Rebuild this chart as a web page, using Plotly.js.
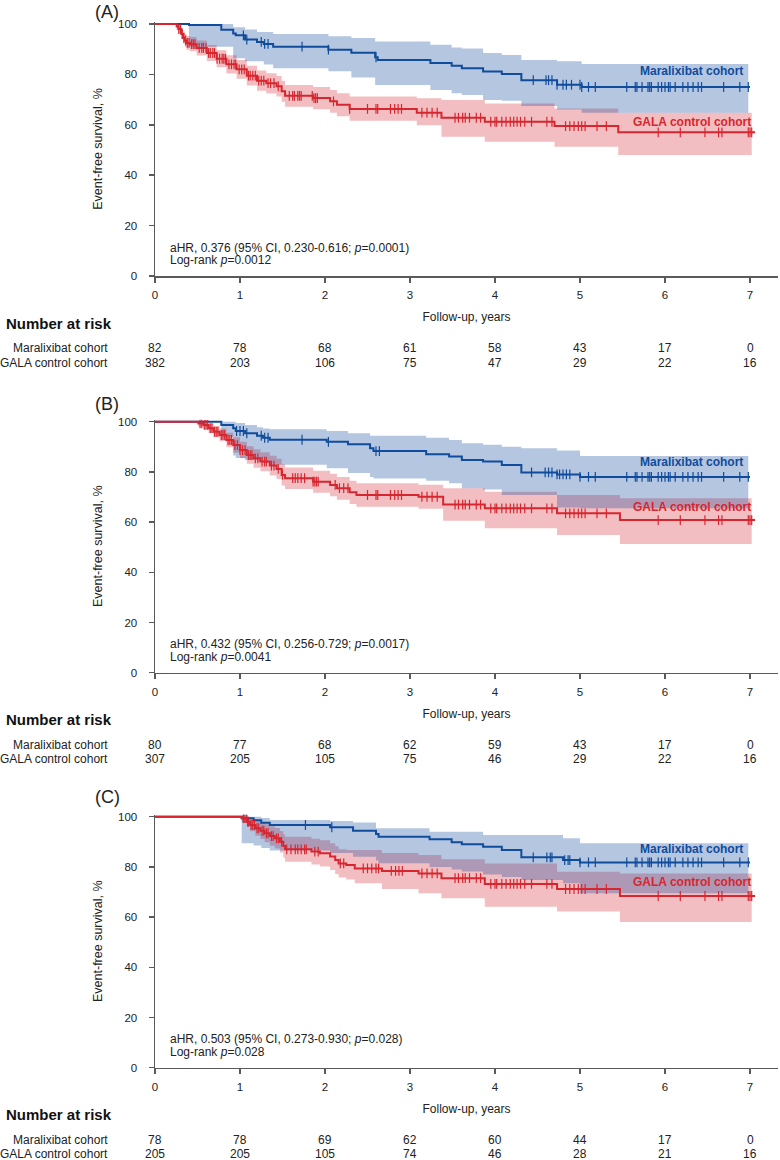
<!DOCTYPE html>
<html>
<head>
<meta charset="utf-8">
<script src="https://cdn.plot.ly/plotly-3.0.1.min.js"></script>
<style>
  body { margin: 0; background: #fff; }
  #km { width: 780px; height: 1160px; }
</style>
</head>
<body>
<div id="km"></div>
<script>
// ---- data (years, % event-free) ----

// Panel A
const aBlueT  = [0, 0.4, 0.78, 0.92, 0.95, 1.06, 1.2, 1.28, 1.39, 2.04, 2.31, 2.59, 2.62, 3.24, 3.49, 3.61, 3.86, 4.08, 4.31, 4.73, 5.02];
const aBlueS  = [100, 99.6, 97.7, 96.2, 95.5, 93.8, 92.9, 92.1, 91.0, 89.8, 88.6, 86.8, 85.7, 84.5, 83.4, 82.4, 81.1, 80.2, 77.7, 75.9, 75.0];
const aBlueUp = [100, 100, 100, 98.7, 98.7, 97.8, 96.8, 96.8, 96.0, 95.1, 94.4, 93.1, 93.1, 91.8, 90.7, 90.3, 88.5, 87.7, 85.7, 85.2, 84.1];
const aBlueLo = [100, 91, 91, 86.4, 86.4, 85.2, 85.2, 83.9, 82.4, 81.2, 78.8, 75.8, 75.8, 73.8, 72.5, 71.8, 69.8, 69.5, 67.5, 66.1, 64.8];
const aBlueCens = [1.04, 1.08, 1.25, 1.29, 1.33, 1.73, 2.04, 2.6, 4.45, 4.6, 4.63, 4.67, 4.73, 4.8, 4.84, 4.9, 5.0, 5.02, 5.1, 5.18,
  5.55, 5.65, 5.67, 5.73, 5.8, 5.82, 5.84, 5.92, 5.96, 6.0, 6.04, 6.06, 6.12, 6.21, 6.27, 6.33, 6.39, 6.43, 6.69, 6.88, 6.98];

const aRedT  = [0, 0.255, 0.275, 0.31, 0.33, 0.35, 0.37, 0.41, 0.49, 0.61, 0.725, 0.84, 0.96, 1.08, 1.2, 1.31, 1.43, 1.49, 1.53, 1.86, 2.06, 2.14, 2.29, 3.08, 3.37, 3.88, 4.7, 5.45];
const aRedS  = [100, 99, 98, 96, 94.5, 93.5, 92.5, 92, 90.5, 88.5, 86.2, 84, 82, 79.5, 77.5, 76.5, 75.3, 73.3, 71.5, 70.6, 69.3, 68, 66.3, 64.8, 62.8, 61.2, 59.5, 57];
const aRedUp = [100, 100, 99.5, 98, 97, 96, 95.2, 94.8, 93.5, 91.7, 89.6, 87.6, 85.7, 83.4, 81.5, 80.5, 79.4, 77.5, 75.8, 75, 73.8, 72.5, 71.2, 70.5, 69.8, 68.5, 66.5, 64.8];
const aRedLo = [100, 97.5, 96.3, 94, 92.3, 91, 89.8, 89.2, 87.5, 85.3, 82.8, 80.4, 78.3, 75.6, 73.5, 72.4, 71.2, 69.1, 67.2, 66.2, 64.8, 63.4, 61.6, 59.8, 55.3, 53.3, 51.3, 48];
const aRedCens = [0.28, 0.3, 0.32, 0.34, 0.36, 0.38, 0.4, 0.43, 0.45, 0.47, 0.52, 0.55, 0.57, 0.6, 0.63, 0.65, 0.68, 0.7, 0.73, 0.76,
  0.79, 0.81, 0.83, 0.87, 0.9, 0.93, 0.95, 0.99, 1.02, 1.05, 1.1, 1.12, 1.15, 1.18, 1.22, 1.25, 1.28, 1.33, 1.36, 1.4, 1.45,
  1.58, 1.62, 1.64, 1.68, 1.7, 1.72, 1.85, 1.87, 1.89, 1.91, 2.1, 2.29, 2.5, 2.6, 2.62, 2.77, 2.82, 2.86, 2.9, 3.14, 3.2, 3.26, 3.32,
  3.53, 3.57, 3.62, 3.65, 3.7, 3.78, 3.83, 3.95, 4.0, 4.02, 4.08, 4.13, 4.18, 4.22, 4.26, 4.3, 4.35, 4.43, 4.61, 4.67,
  4.83, 4.88, 4.93, 4.98, 5.02, 5.06, 5.2, 5.31, 5.92, 6.18, 6.47, 6.63, 6.67, 6.98, 7.0, 7.02];

// Panel B
const bBlueT  = [0, 0.78, 0.92, 0.95, 1.06, 1.2, 1.27, 1.35, 2.02, 2.27, 2.53, 2.57, 3.19, 3.46, 3.61, 3.86, 4.08, 4.31, 4.73, 5.0];
const bBlueS  = [100, 98.7, 97.4, 96.3, 95.4, 94.4, 93.6, 92.8, 92.0, 91.0, 89.4, 88.3, 87.0, 86.1, 84.7, 84.1, 82.7, 79.8, 79.0, 78.0];
const bBlueUp = [100, 100, 100, 99.5, 98.7, 97.8, 97.3, 97.0, 96.3, 95.4, 94.4, 94.4, 93.6, 92.7, 91.4, 90.8, 90.0, 89.4, 88.5, 86.3];
const bBlueLo = [100, 94, 86.5, 85.5, 84.7, 84.2, 83.5, 82.8, 81.5, 79.6, 78, 77.4, 76.5, 75.5, 73.5, 73.0, 70.8, 70.8, 65.8, 65.5];
const bBlueCens = [0.96, 1.0, 1.04, 1.08, 1.25, 1.29, 1.33, 1.73, 2.04, 2.6, 2.64, 4.43, 4.59, 4.63, 4.67, 4.73, 4.76, 4.8, 4.84, 4.88,
  5.0, 5.1, 5.18, 5.55, 5.65, 5.67, 5.73, 5.8, 5.82, 5.84, 5.92, 5.96, 6.0, 6.04, 6.06, 6.12, 6.21, 6.27, 6.33, 6.39, 6.43, 6.69, 6.88, 6.98];

const bRedT  = [0, 0.51, 0.57, 0.63, 0.69, 0.76, 0.84, 0.92, 1.0, 1.08, 1.16, 1.24, 1.35, 1.43, 1.49, 1.53, 1.86, 2.06, 2.14, 2.29, 2.37, 3.1, 3.39, 3.88, 4.73, 5.47];
const bRedS  = [100, 99.3, 98.7, 97.4, 96.0, 94.7, 92.7, 90.7, 88.7, 86.7, 85.4, 84.1, 82.5, 81.2, 78.8, 77.5, 76.1, 74.8, 73.5, 71.9, 70.8, 70.1, 67.0, 65.5, 63.5, 60.8];
const bRedUp = [100, 100, 100, 99.3, 98.3, 97.3, 95.6, 93.8, 92.0, 90.2, 89.0, 87.8, 86.4, 85.2, 83, 81.8, 80.5, 79.3, 78, 76.5, 75.5, 74.9, 73.5, 72.1, 70.8, 69.5];
const bRedLo = [100, 98, 97, 95.5, 93.8, 92.2, 89.8, 87.6, 85.4, 83.2, 81.7, 80.3, 78.6, 77.2, 74.6, 73.2, 71.7, 70.3, 68.9, 67.2, 66.1, 65.3, 60.5, 57.5, 54.9, 51.3];
const bRedCens = [0.53, 0.55, 0.58, 0.6, 0.62, 0.65, 0.67, 0.7, 0.72, 0.74, 0.78, 0.8, 0.82, 0.86, 0.88, 0.9, 0.94, 0.97, 1.0, 1.03,
  1.06, 1.1, 1.12, 1.14, 1.18, 1.21, 1.26, 1.29, 1.31, 1.37, 1.4, 1.45, 1.5, 1.62, 1.65, 1.68, 1.72, 1.76, 1.86, 1.88, 1.9, 1.92,
  2.12, 2.17, 2.22, 2.27, 2.5, 2.6, 2.62, 2.77, 2.82, 2.86, 2.9, 3.14, 3.2, 3.26, 3.32, 3.53, 3.57, 3.62, 3.65, 3.7, 3.78, 3.83,
  3.95, 4.0, 4.02, 4.08, 4.13, 4.18, 4.22, 4.26, 4.3, 4.35, 4.43, 4.61, 4.67, 4.83, 4.88, 4.93, 4.98, 5.02, 5.06, 5.2, 5.31,
  5.92, 6.18, 6.47, 6.63, 6.67, 6.98, 7.0, 7.02];

// Panel C
const cBlueT  = [0, 1.02, 1.16, 1.25, 1.35, 2.06, 2.33, 2.6, 2.63, 3.23, 3.49, 3.61, 3.86, 4.08, 4.31, 4.8, 5.0];
const cBlueS  = [100, 99.4, 98.6, 97.6, 96.7, 95.8, 94.4, 93.1, 92.0, 91.0, 89.8, 89.0, 88.0, 86.7, 83.8, 82.7, 81.8];
const cBlueUp = [100, 100, 100, 99.5, 98.7, 98.3, 97.7, 95.4, 95.4, 94.0, 94.0, 94.0, 92.7, 92.7, 92.7, 91.4, 89.4];
const cBlueLo = [100, 89.4, 88.5, 87.5, 86.5, 85.5, 84.0, 82.5, 81.5, 80.0, 79.0, 78.2, 77.0, 76.0, 74.8, 73.5, 69.5];
const cBlueCens = [1.04, 1.08, 1.77, 2.08, 4.45, 4.61, 4.65, 4.67, 4.82, 4.86, 4.88, 5.0, 5.1, 5.18, 5.55, 5.65, 5.67, 5.73, 5.8, 5.82,
  5.84, 5.92, 5.96, 6.0, 6.04, 6.06, 6.12, 6.21, 6.27, 6.33, 6.39, 6.43, 6.69, 6.88, 6.98];

const cRedT  = [0, 1.02, 1.08, 1.12, 1.18, 1.24, 1.29, 1.35, 1.41, 1.47, 1.51, 1.53, 1.84, 1.94, 2.06, 2.12, 2.16, 2.25, 2.35, 2.67, 3.1, 3.37, 3.88, 4.73, 5.47];
const cRedS  = [100, 99.4, 98.0, 96.7, 95.4, 94.4, 93.4, 92.3, 91.4, 90.0, 88.3, 87.0, 86.1, 85.4, 84.1, 82.7, 81.4, 80.8, 79.4, 78.4, 77.4, 75.5, 73.2, 71.2, 68.4];
const cRedUp = [100, 100, 99.8, 99.2, 98.4, 97.7, 97.0, 96.2, 95.5, 94.3, 92.9, 92.0, 91.2, 90.6, 89.4, 88.2, 87.0, 86.7, 86.7, 85.5, 84.7, 83.0, 81.4, 78.1, 77.4];
const cRedLo = [100, 98, 96, 94.2, 92.4, 91.1, 89.8, 88.4, 87.3, 85.7, 83.7, 82.1, 81.0, 80.2, 78.8, 77.2, 75.8, 75.0, 73.5, 71.2, 69.5, 67.5, 64.1, 62.2, 58.0];
const cRedCens = [1.04, 1.05, 1.07, 1.09, 1.1, 1.13, 1.15, 1.17, 1.2, 1.22, 1.26, 1.28, 1.31, 1.33, 1.37, 1.39, 1.43, 1.45, 1.49,
  1.55, 1.6, 1.65, 1.68, 1.72, 1.76, 1.78, 1.88, 1.92, 2.18, 2.22, 2.45, 2.5, 2.55, 2.6, 2.63, 2.78, 2.83, 2.87, 2.91,
  3.14, 3.2, 3.26, 3.32, 3.53, 3.57, 3.62, 3.65, 3.7, 3.78, 3.83, 3.95, 4.0, 4.02, 4.08, 4.13, 4.18, 4.22, 4.26, 4.3, 4.35,
  4.43, 4.61, 4.67, 4.83, 4.88, 4.93, 4.98, 5.02, 5.06, 5.2, 5.31, 5.92, 6.18, 6.47, 6.63, 6.67, 6.98, 7.0, 7.02];

// end of follow-up for lines and bands
const blueEnd = 7.0, redEnd = 7.06, blueBandEnd = 6.98, redBandEnd = 7.02;

// number at risk
const riskYears = [0, 1, 2, 3, 4, 5, 6, 7];
const aRiskMarali = [82, 78, 68, 61, 58, 43, 17, 0];
const aRiskGala   = [382, 203, 106, 75, 47, 29, 22, 16];
const bRiskMarali = [80, 77, 68, 62, 59, 43, 17, 0];
const bRiskGala   = [307, 205, 105, 75, 46, 29, 22, 16];
const cRiskMarali = [78, 78, 69, 62, 60, 44, 17, 0];
const cRiskGala   = [205, 205, 105, 74, 46, 28, 21, 16];

const panelLabels = ["(A)", "(B)", "(C)"];
const hrText = [
  "aHR, 0.376 (95% CI, 0.230-0.616; <i>p</i>=0.0001)",
  "aHR, 0.432 (95% CI, 0.256-0.729; <i>p</i>=0.0017)",
  "aHR, 0.503 (95% CI, 0.273-0.930; <i>p</i>=0.028)"
];
const logrankText = ["Log-rank <i>p</i>=0.0012", "Log-rank <i>p</i>=0.0041", "Log-rank <i>p</i>=0.028"];
const maraliLabelY = [81.5, 83.8, 87.1];
const galaLabelY = [61.1, 65.9, 74.1];

// ---- styling ----
const W = 780, H = 1160;
const BLUE = "#0f4c9c", RED = "#d7262f";
const BLUE_FILL = "rgba(17,71,158,0.31)", RED_FILL = "rgba(214,39,51,0.30)";
const AXIS = "#5a5a5a", TXT = "#222";
const FONT = "Liberation Sans, Arial, sans-serif";

// pixel positions of y=0 and y=100 for each panel, and of the panel letter
const panelY0 = [276, 672.7, 1067.7];
const panelY100 = [24, 421.7, 816.7];
const letterPx = [12, 404, 797];
const xLeftPx = 155, xRightPx = 778, pxPerYear = 85;

function stepXY(T, V, end) {
  return { x: T.concat([end]), y: V.concat([V[V.length - 1]]) };
}

function survAt(time, T, S) {
  let v = S[0];
  for (let i = 0; i < T.length; i++) {
    if (T[i] <= time) v = S[i];
  }
  return v;
}

const panels = [
  { bT: aBlueT, bS: aBlueS, bU: aBlueUp, bL: aBlueLo, bC: aBlueCens,
    rT: aRedT, rS: aRedS, rU: aRedUp, rL: aRedLo, rC: aRedCens, riskM: aRiskMarali, riskG: aRiskGala },
  { bT: bBlueT, bS: bBlueS, bU: bBlueUp, bL: bBlueLo, bC: bBlueCens,
    rT: bRedT, rS: bRedS, rU: bRedUp, rL: bRedLo, rC: bRedCens, riskM: bRiskMarali, riskG: bRiskGala },
  { bT: cBlueT, bS: cBlueS, bU: cBlueUp, bL: cBlueLo, bC: cBlueCens,
    rT: cRedT, rS: cRedS, rU: cRedUp, rL: cRedLo, rC: cRedCens, riskM: cRiskMarali, riskG: cRiskGala }
];

const traces = [];
const annotations = [];
const layout = {
  width: W, height: H,
  margin: { l: 0, r: 0, t: 0, b: 0 },
  paper_bgcolor: "#fff", plot_bgcolor: "rgba(0,0,0,0)",
  showlegend: false,
  font: { family: FONT, color: TXT, size: 12 }
};

const py = p => 1 - p / H;

panels.forEach((p, i) => {
  const sfx = i === 0 ? "" : String(i + 1);
  const xa = "x" + sfx, ya = "y" + sfx;
  const pxPerPct = (panelY0[i] - panelY100[i]) / 100;
  const yTop = 100.8;
  const topPx = panelY0[i] - yTop * pxPerPct;

  // confidence bands (red first, blue on top)
  const rl = stepXY(p.rT, p.rL, redBandEnd), ru = stepXY(p.rT, p.rU, redBandEnd);
  const bl = stepXY(p.bT, p.bL, blueBandEnd), bu = stepXY(p.bT, p.bU, blueBandEnd);
  traces.push({ x: rl.x, y: rl.y, xaxis: xa, yaxis: ya, mode: "lines", line: { width: 0, shape: "hv" }, hoverinfo: "skip" });
  traces.push({ x: ru.x, y: ru.y, xaxis: xa, yaxis: ya, mode: "lines", line: { width: 0, shape: "hv" },
    fill: "tonexty", fillcolor: RED_FILL, hoverinfo: "skip" });
  traces.push({ x: bl.x, y: bl.y, xaxis: xa, yaxis: ya, mode: "lines", line: { width: 0, shape: "hv" }, hoverinfo: "skip" });
  traces.push({ x: bu.x, y: bu.y, xaxis: xa, yaxis: ya, mode: "lines", line: { width: 0, shape: "hv" },
    fill: "tonexty", fillcolor: BLUE_FILL, hoverinfo: "skip" });

  // KM curves with censor ticks
  const bs = stepXY(p.bT, p.bS, blueEnd), rs = stepXY(p.rT, p.rS, redEnd);
  traces.push({ x: bs.x, y: bs.y, xaxis: xa, yaxis: ya, mode: "lines", line: { color: BLUE, width: 2, shape: "hv" }, name: "Maralixibat cohort" });
  traces.push({ x: p.bC, y: p.bC.map(t => survAt(t, p.bT, p.bS)), xaxis: xa, yaxis: ya, mode: "markers",
    marker: { symbol: "line-ns", size: 7, line: { color: BLUE, width: 1.2 } } });
  traces.push({ x: rs.x, y: rs.y, xaxis: xa, yaxis: ya, mode: "lines", line: { color: RED, width: 2, shape: "hv" }, name: "GALA control cohort" });
  traces.push({ x: p.rC, y: p.rC.map(t => survAt(t, p.rT, p.rS)), xaxis: xa, yaxis: ya, mode: "markers",
    marker: { symbol: "line-ns", size: 7, line: { color: RED, width: 1.2 } } });

  layout["xaxis" + sfx] = {
    domain: [xLeftPx / W, xRightPx / W], anchor: ya,
    range: [0, (xRightPx - xLeftPx) / pxPerYear],
    tickvals: riskYears, ticks: "outside", ticklen: 5, tickwidth: 1.5, tickcolor: AXIS,
    showline: true, linecolor: AXIS, linewidth: 1.5, showgrid: false, zeroline: false,
    tickfont: { size: 11.5, color: TXT }, ticklabelstandoff: 3,
    title: { text: "Follow-up, years", font: { size: 12, color: TXT }, standoff: 12 }
  };
  layout["yaxis" + sfx] = {
    domain: [py(panelY0[i]), py(topPx)], anchor: xa,
    range: [0, yTop],
    tickvals: [0, 20, 40, 60, 80, 100], ticks: "outside", ticklen: 5, tickwidth: 1.5, tickcolor: AXIS,
    showline: true, linecolor: AXIS, linewidth: 1.5, showgrid: false, zeroline: false,
    tickfont: { size: 11.5, color: TXT }, ticklabelstandoff: 9,
    title: { text: "Event-free survival, %", font: { size: 12.5, color: TXT }, standoff: 12 }
  };

  // panel letter
  annotations.push({ xref: "paper", yref: "paper", x: 107 / W, y: py(letterPx[i]), text: panelLabels[i],
    showarrow: false, xanchor: "center", yanchor: "middle", font: { size: 18, color: TXT } });
  // statistics
  annotations.push({ xref: xa, yref: ya, x: 0.15, y: 28.5 / pxPerPct, text: hrText[i], showarrow: false,
    xanchor: "left", yanchor: "middle", font: { size: 12, color: TXT } });
  annotations.push({ xref: xa, yref: ya, x: 0.15, y: 15.8 / pxPerPct, text: logrankText[i], showarrow: false,
    xanchor: "left", yanchor: "middle", font: { size: 12, color: TXT } });
  // curve labels
  annotations.push({ xref: xa, yref: ya, x: 6.94, y: maraliLabelY[i], text: "<b>Maralixibat cohort</b>", showarrow: false,
    xanchor: "right", yanchor: "middle", font: { size: 12, color: BLUE } });
  annotations.push({ xref: xa, yref: ya, x: 7.04, y: galaLabelY[i], text: "<b>GALA control cohort</b>", showarrow: false,
    xanchor: "right", yanchor: "middle", font: { size: 12, color: RED } });

  // number at risk table
  const y0 = panelY0[i];
  annotations.push({ xref: "paper", yref: "paper", x: 4 / W, y: py(y0 + 47), text: "<b>Number at risk</b>", showarrow: false,
    xanchor: "left", yanchor: "middle", font: { size: 15, color: "#111" } });
  annotations.push({ xref: "paper", yref: "paper", x: 110 / W, y: py(y0 + 72), text: "Maralixibat cohort", showarrow: false,
    xanchor: "right", yanchor: "middle", font: { size: 12, color: TXT } });
  annotations.push({ xref: "paper", yref: "paper", x: 110 / W, y: py(y0 + 86.5), text: "GALA control cohort", showarrow: false,
    xanchor: "right", yanchor: "middle", font: { size: 12, color: TXT } });
  riskYears.forEach((yr, j) => {
    annotations.push({ xref: xa, yref: "paper", x: yr, y: py(y0 + 72), text: String(p.riskM[j]), showarrow: false,
      xanchor: "center", yanchor: "middle", font: { size: 12, color: TXT } });
    annotations.push({ xref: xa, yref: "paper", x: yr, y: py(y0 + 86.5), text: String(p.riskG[j]), showarrow: false,
      xanchor: "center", yanchor: "middle", font: { size: 12, color: TXT } });
  });
});

layout.annotations = annotations;

Plotly.newPlot("km", traces, layout, { staticPlot: true });
</script>
</body>
</html>
